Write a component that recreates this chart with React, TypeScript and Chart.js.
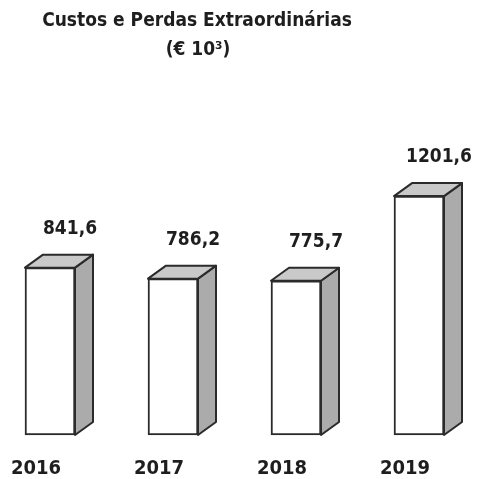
import React, { useEffect, useRef } from "react";
import { Chart, registerables } from "chart.js";

Chart.register(...registerables);

const categories = ["2016", "2017", "2018", "2019"];
const values = [841.6, 786.2, 775.7, 1201.6];
const valueLabels = ["841,6", "786,2", "775,7", "1201,6"];
const titleLines = ["Custos e Perdas Extraordinárias", "(€ 10³)"];

const DX = 18;
const DY = 13;
const FONT = "'DejaVu Sans Condensed', 'DejaVu Sans', sans-serif";

const bar3d = {
  id: "bar3d",
  afterDatasetsDraw(chart: any) {
    const ctx = chart.ctx as CanvasRenderingContext2D;
    const meta = chart.getDatasetMeta(0);
    meta.data.forEach((bar: any, i: number) => {
      const { x, y, base, width } = bar.getProps(["x", "y", "base", "width"], true);
      const l = x - width / 2;
      const r = x + width / 2;
      ctx.save();
      ctx.lineJoin = "round";
      ctx.lineWidth = 2;
      ctx.strokeStyle = "#2b2b2b";
      // side face
      ctx.beginPath();
      ctx.moveTo(r, y);
      ctx.lineTo(r + DX, y - DY);
      ctx.lineTo(r + DX, base - DY);
      ctx.lineTo(r, base);
      ctx.closePath();
      ctx.fillStyle = "#ababab";
      ctx.fill();
      ctx.stroke();
      // top face
      ctx.beginPath();
      ctx.moveTo(l, y);
      ctx.lineTo(l + DX, y - DY);
      ctx.lineTo(r + DX, y - DY);
      ctx.lineTo(r, y);
      ctx.closePath();
      ctx.fillStyle = "#c9c9c9";
      ctx.fill();
      ctx.stroke();
      // value label
      ctx.fillStyle = "#1e1e1e";
      ctx.font = `bold 19px ${FONT}`;
      ctx.textAlign = "center";
      ctx.textBaseline = "middle";
      ctx.fillText(valueLabels[i], x + 20, y - 39);
      ctx.restore();
    });
  },
  afterDraw(chart: any) {
    const ctx = chart.ctx as CanvasRenderingContext2D;
    ctx.save();
    ctx.fillStyle = "#1e1e1e";
    ctx.font = `bold 19px ${FONT}`;
    ctx.textAlign = "center";
    ctx.textBaseline = "middle";
    ctx.fillText(titleLines[0], 197, 21);
    ctx.fillText(titleLines[1], 198, 50);
    ctx.restore();
  },
};

export default function App() {
  const ref = useRef<HTMLCanvasElement | null>(null);
  useEffect(() => {
    document.body.style.margin = "0";
    if (!ref.current) return;
    const chart = new Chart(ref.current, {
      type: "bar",
      data: {
        labels: categories,
        datasets: [
          {
            data: values,
            backgroundColor: "#ffffff",
            borderColor: "#2b2b2b",
            borderWidth: 2,
            borderSkipped: false,
            barThickness: 50,
            clip: false as any,
          },
        ],
      },
      options: {
        animation: false,
        responsive: true,
        maintainAspectRatio: false,
        devicePixelRatio: 1,
        layout: { padding: { left: 50, right: 63, top: 97, bottom: 0 } },
        plugins: {
          legend: { display: false },
          title: { display: false },
          tooltip: { enabled: false },
        },
        scales: {
          x: {
            offset: false,
            grid: { display: false, drawTicks: false },
            border: { display: false },
            afterFit: (scale: any) => {
              scale.height = 44;
            },
            ticks: {
              color: "#1e1e1e",
              font: { family: FONT, size: 20, weight: "bold" },
              padding: 22,
              labelOffset: -14,
              maxRotation: 0,
              autoSkip: false,
            },
          },
          y: {
            display: false,
            min: 0,
            max: 1700,
          },
        },
      },
      plugins: [bar3d],
    });
    return () => chart.destroy();
  }, []);
  return (
    <div style={{ position: "relative", width: 482, height: 479, background: "#fff" }}>
      <canvas ref={ref} />
    </div>
  );
}
